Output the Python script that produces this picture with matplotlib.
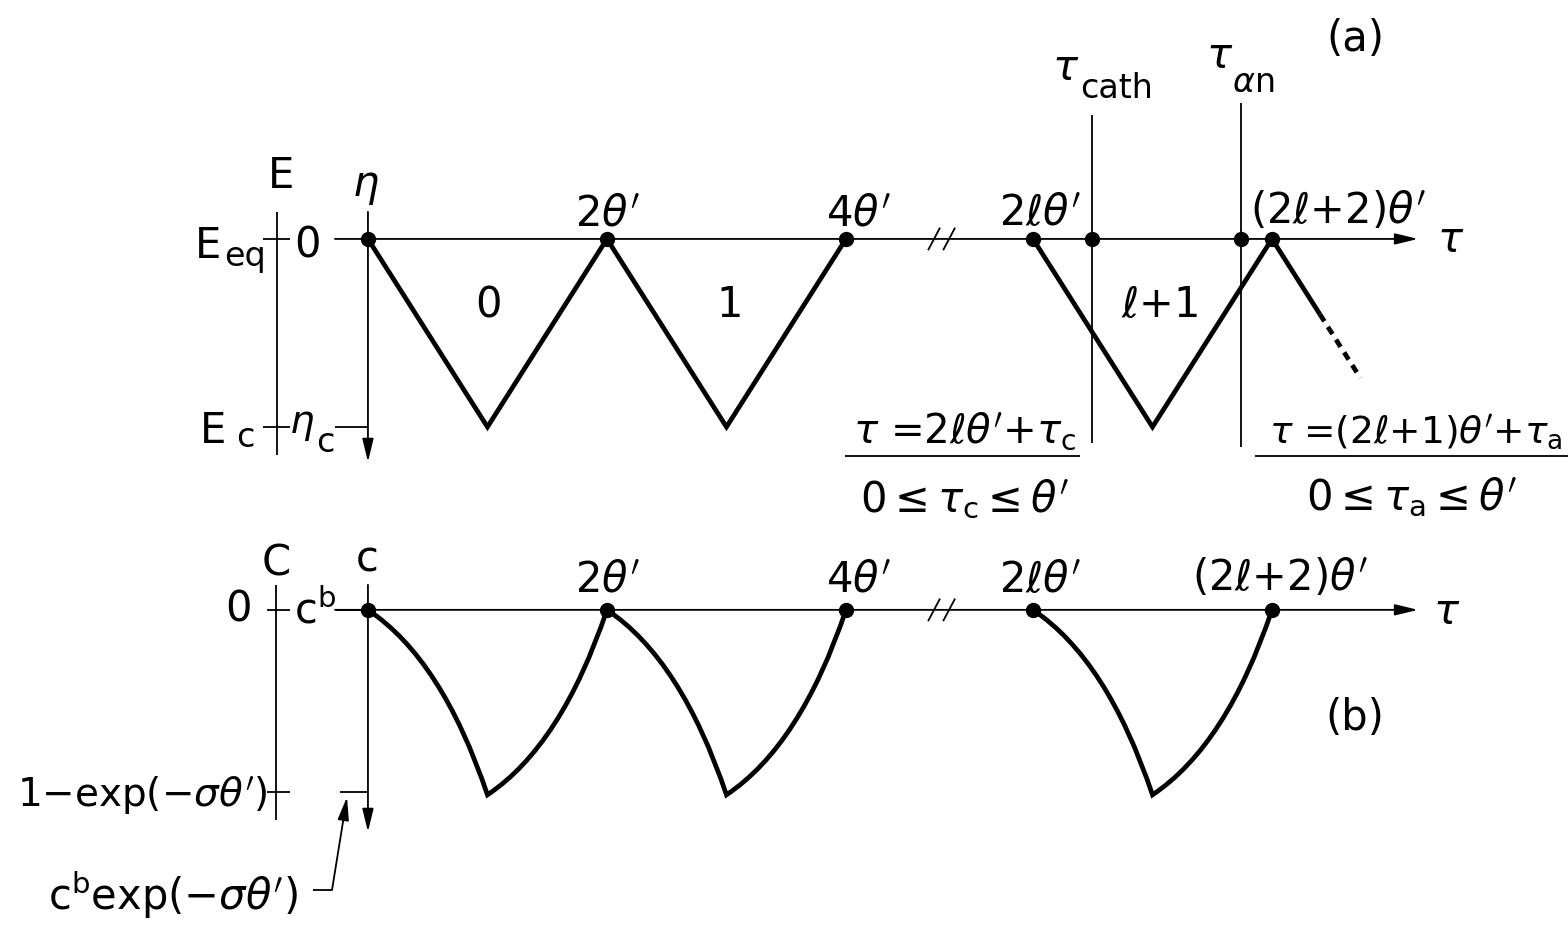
import matplotlib
matplotlib.use('Agg')
import numpy as np
import matplotlib.pyplot as plt
from matplotlib.path import Path
from matplotlib.patches import PathPatch
from matplotlib.transforms import Affine2D

plt.rcParams['font.family'] = ['DejaVu Sans']
plt.rcParams['mathtext.fontset'] = 'dejavusans'

W, H = 1568, 927

# time in units of theta'; the last period starts at 2l*theta' (after the break)
t_first = [0, 1, 2, 3, 4]
t_last = [0, 1, 2]
l_start = 5.565
break_at = 4.80

# (a) overpotential, scaled by eta_c (negative = cathodic)
eta_first = [0, -1, 0, -1, 0]
eta_last = [0, -1, 0]
tail_solid_t = [0, 0.40]
tail_solid = [0, -0.40]
tail_dash_t = [0.40, 0.74]
tail_dash = [-0.40, -0.74]
tau_c = 0.49
tau_a = 0.74

# (b) surface concentration over one period: bezier nodes (t, c)
c_period_t = [0, 0.62, 1, 1.62, 2]
c_period = [0, -0.263, -0.984, -0.721, 0]
c_low = -0.968            # 1 - exp(-sigma theta')
b_base = -1.973           # vertical offset of panel (b)

fig = plt.figure(figsize=(W / 100, H / 100), dpi=100)
ax = fig.add_axes([0, 0, 1, 1])
ax.set_xlim(-3.079, 10.042)
ax.set_ylim(-3.660, 1.271)
ax.axis('off')

pix = Affine2D().scale(1, -1).translate(0, H)   # top-left pixel coords
THIN = 1.3
THICK = 3.4
MINUS = '\u2212'


def label(x, y, s, size=30, ha='center', va='baseline'):
    ax.text(x, y, s, transform=pix, fontsize=size, ha=ha, va=va, color='k')


def arrow(x0, y0, x1, y1, coords='data'):
    ax.annotate('', xy=(x1, y1), xytext=(x0, y0), xycoords=coords, textcoords=coords,
                arrowprops=dict(arrowstyle='-|>,head_length=0.7,head_width=0.17',
                                mutation_scale=20, lw=THIN, color='k',
                                shrinkA=0, shrinkB=0))


def seg(x, y, lw=THIN, **kw):
    ax.plot(x, y, color='k', lw=lw, solid_capstyle='butt', **kw)


def axis_break(y0):
    for c in (break_at - 0.063, break_at + 0.063):
        seg([c - 0.05, c + 0.05], [y0 - 0.06, y0 + 0.06])


# ---------------- (a) ----------------
seg([-0.762, -0.762], [0.144, -1.149])
for yy in (0, -1):
    seg([-0.879, -0.653], [yy, yy])
arrow(0, 0.144, 0, -1.186)
seg([-0.276, 0], [-1, -1])
arrow(-0.276, 0, 8.787, 0)
axis_break(0)

seg(t_first, eta_first, lw=THICK, solid_joinstyle='miter')
seg(l_start + np.array(t_last), eta_last, lw=THICK, solid_joinstyle='miter')
tail0 = l_start + t_last[-1]
seg(tail0 + np.array(tail_solid_t), tail_solid, lw=THICK)
ax.plot(tail0 + np.array(tail_dash_t), tail_dash, color='k', lw=THICK,
        ls=(0, (1.8, 1.4)))

x_cath = l_start + tau_c
x_an = l_start + 1 + tau_a
seg([x_cath, x_cath], [0.66, -1.085])
seg([x_an, x_an], [0.723, -1.106])

dots_a = [0, 2, 4, l_start, x_cath, x_an, l_start + 2]
ax.plot(dots_a, np.zeros(len(dots_a)), 'o', color='k', ms=10, zorder=5)

label(281, 188, 'E')
label(366, 196, r'$\eta$')
label(195, 258, 'E', ha='left')
label(224, 266, 'eq', size=24, ha='left')
label(294, 258, '0', ha='left')
label(200, 443, 'E', ha='left')
label(236, 447, 'c', size=24, ha='left')
label(289, 433, r'$\eta$', ha='left', size=28)
label(316, 452, 'c', size=24, ha='left')

label(607, 225, r"2$\theta'$")
label(858, 225, r"4$\theta'$")
label(1040, 225, r"2$\ell\theta'$")
label(1250, 223, r"(2$\ell$+2)$\theta'$", ha='left')
label(1451, 240, r'$\tau$', va='center')
label(488, 305, '0', va='center')
label(730, 305, '1', va='center')
label(1160, 305, r'$\ell$+1', va='center')

label(1066, 80, r'$\tau$')
label(1080, 98, 'cath', size=24, ha='left')
label(1220, 68, r'$\tau$')
label(1232, 92, r'$\alpha$n', size=24, ha='left')
label(1355, 39, '(a)', va='center')

label(965, 443, r"$\tau$ =2$\ell\theta'$+$\tau_{\mathrm{c}}$", size=29)
seg([845, 1080], [456, 456], transform=pix)
label(965, 512, r"0$\leq\tau_{\mathrm{c}}\leq\theta'$")
label(1562, 443, r"$\tau$ =(2$\ell$+1)$\theta'$+$\tau_{\mathrm{a}}$", size=27,
      ha='right')
seg([1255, 1568], [456, 456], transform=pix)
label(1412, 510, r"0$\leq\tau_{\mathrm{a}}\leq\theta'$")

# ---------------- (b) ----------------
seg([-0.770, -0.770], [b_base + 0.133, b_base - 1.117])
for yy in (0, c_low):
    seg([-0.845, -0.653], [b_base + yy, b_base + yy])
arrow(0, b_base + 0.133, 0, b_base - 1.181)
seg([-0.270, 0], [b_base, b_base])
seg([-0.234, 0], [b_base + c_low, b_base + c_low])
arrow(-0.276, b_base, 8.787, b_base)
axis_break(b_base)

codes = [Path.MOVETO] + [Path.CURVE3] * 4
for t0 in (0, 2, l_start):
    verts = np.column_stack([t0 + np.array(c_period_t), b_base + np.array(c_period)])
    ax.add_patch(PathPatch(Path(verts, codes), fill=False, lw=THICK, ec='k',
                           joinstyle='miter'))

dots_b = [0, 2, 4, l_start, l_start + 2]
ax.plot(dots_b, np.full(len(dots_b), b_base), 'o', color='k', ms=10, zorder=5)

label(276, 575, 'C')
label(367, 572, 'c')
label(238, 622, '0')
label(294, 623, r'c$^{\mathrm{b}}$', ha='left')
label(267, 807, '1' + MINUS + 'exp(' + MINUS + r"$\sigma\theta'$)", size=28, ha='right')
label(48, 910, r'c$^{\mathrm{b}}$exp(' + MINUS + r"$\sigma\theta'$)", ha='left')
seg([313, 332], [890, 890], transform=pix)
arrow(332, 890, 347, 797, coords=pix)

label(607, 592, r"2$\theta'$")
label(858, 592, r"4$\theta'$")
label(1040, 592, r"2$\ell\theta'$")
label(1192, 590, r"(2$\ell$+2)$\theta'$", ha='left')
label(1447, 612, r'$\tau$', va='center')
label(1355, 718, '(b)', va='center')

fig.savefig('out.png', dpi=100)
